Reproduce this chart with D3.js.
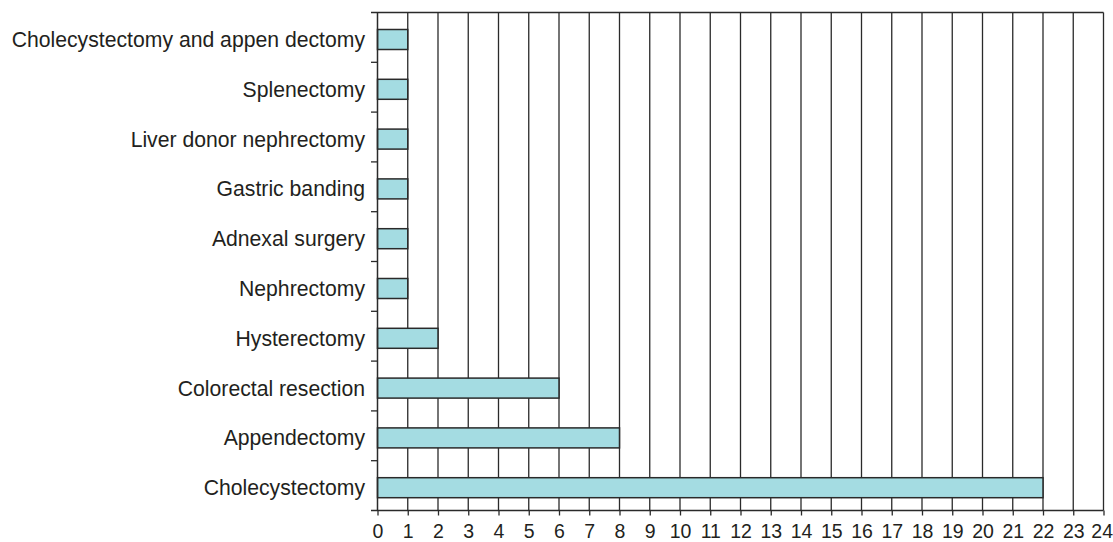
<!DOCTYPE html>
<html><head><meta charset="utf-8">
<script src="https://cdn.jsdelivr.net/npm/d3@7"></script>
<style>body{margin:0;background:#fff;} text{font-family:"Liberation Sans",Arial,sans-serif;}</style>
</head><body>
<svg id="c" width="1113" height="542"></svg>
<script>
const categories = ["Cholecystectomy and appen dectomy","Splenectomy","Liver donor nephrectomy","Gastric banding","Adnexal surgery","Nephrectomy","Hysterectomy","Colorectal resection","Appendectomy","Cholecystectomy"];
const values = [1,1,1,1,1,1,2,6,8,22];
const xTicks = d3.range(0,25);

(function(){
const svg = d3.select("#c");
const pL = 377.5, pR = 1103.5, pT = 12.5, pB = 510.5;
const x = d3.scaleLinear().domain([0,24]).range([pL,pR]);
const y = d3.scaleBand().domain(categories).range([pT,pB]);
const ink = "#2a2a2a";

svg.append("line").attr("x1",371).attr("x2",pR).attr("y1",pT).attr("y2",pT).attr("stroke",ink).attr("stroke-width",1.5);
svg.selectAll(".g").data(xTicks.slice(1)).enter().append("line")
  .attr("x1",d=>x(d)).attr("x2",d=>x(d)).attr("y1",pT).attr("y2",pB)
  .attr("stroke",ink).attr("stroke-width",1.3);

const bh = 20;
svg.selectAll(".b").data(categories).enter().append("rect")
  .attr("x",x(0)).attr("y",(d)=>y(d)+17)
  .attr("width",(d,i)=>x(values[i])-x(0)).attr("height",bh)
  .attr("fill","#a4dce2").attr("stroke",ink).attr("stroke-width",1.5);

svg.append("line").attr("x1",pL).attr("x2",pL).attr("y1",pT).attr("y2",pB).attr("stroke",ink).attr("stroke-width",1.5);
const bounds = categories.map(c=>y(c)).slice(1);
svg.selectAll(".lt").data(bounds).enter().append("line")
  .attr("x1",371).attr("x2",pL).attr("y1",d=>d).attr("y2",d=>d).attr("stroke",ink).attr("stroke-width",1.3);
svg.selectAll(".lab").data(categories).enter().append("text")
  .attr("x",365).attr("y",d=>y(d)+y.bandwidth()/2+9.5).attr("text-anchor","end")
  .attr("font-size",21.2).attr("fill","#231f20").text(d=>d);

const xAxis = d3.axisBottom(x).tickValues(xTicks).tickSize(5).tickSizeOuter(0).tickFormat(d3.format("d"));
const ga = svg.append("g").attr("transform",`translate(0,${pB})`).call(xAxis);
ga.select(".domain").attr("stroke",ink).attr("stroke-width",1.5).attr("d",`M371,0H${pR}`);
ga.selectAll(".tick line").attr("stroke",ink).attr("stroke-width",1.3);
ga.selectAll(".tick text").attr("font-size",19.5).attr("fill","#231f20").attr("dy",0).attr("y",27.5)
  .style("font-family","'Liberation Sans',Arial,sans-serif");
ga.selectAll(".tick text").filter(d=>d===24).attr("text-anchor","end").attr("x",9);
})();
</script>
</body></html>
